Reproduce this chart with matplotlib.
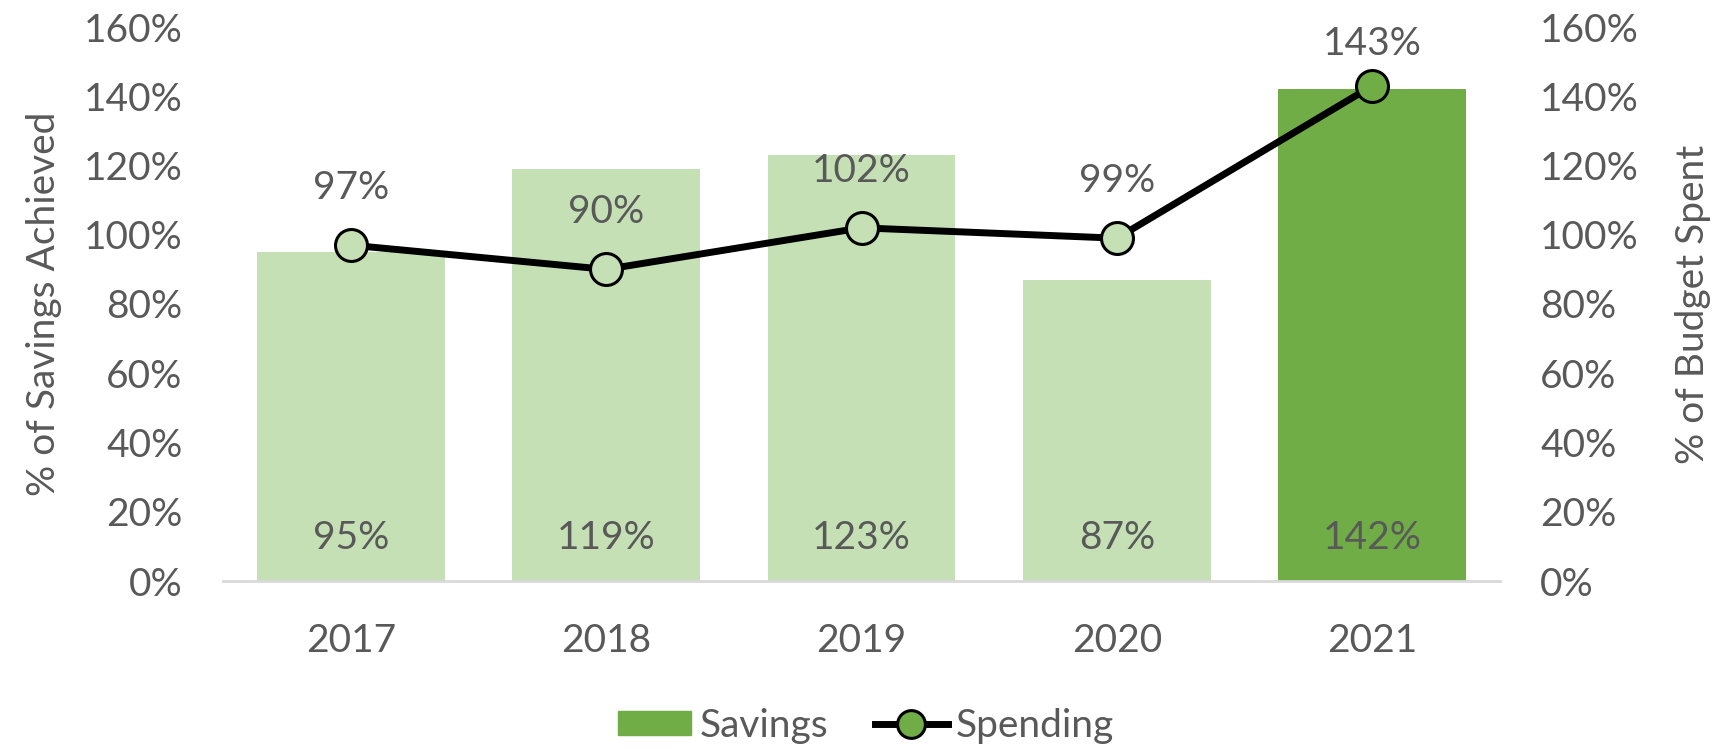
import matplotlib.pyplot as plt
from matplotlib.lines import Line2D
from matplotlib.patches import Patch

# data
years = ['2017', '2018', '2019', '2020', '2021']
savings = [95, 119, 123, 87, 142]
spending = [97, 90, 102, 99, 143]
highlight = [False, False, False, False, True]

light = '#C5E0B4'
dark = '#70AD47'
txt = '#595959'
fs = 28

plt.rcParams['font.family'] = ['Lato', 'DejaVu Sans']

fig = plt.figure(figsize=(17.2, 7.49), dpi=100)
ax = fig.add_axes([223/1720, 1 - 581/749, (1500-223)/1720, (581-27)/749])
ax2 = ax.twinx()

x = range(len(years))
cols = [dark if h else light for h in highlight]
ax.bar(x, savings, width=0.736, color=cols, zorder=2)
for i, v in enumerate(savings):
    ax.text(i, 12.4, f'{v}%', ha='center', va='center', fontsize=fs, color=txt)

ax2.plot(x, spending, color='black', lw=5, zorder=3)
for i, v in enumerate(spending):
    ax2.plot(i, v, 'o', ms=23, mfc=cols[i], mec='black', mew=2.2, zorder=4)
    ax2.text(i, min(v + 16.5, 155), f'{v}%', ha='center', va='center',
             fontsize=fs, color=txt)

for a in (ax, ax2):
    a.set_ylim(0, 160)
    a.set_yticks(range(0, 161, 20))
    a.set_yticklabels([f'{t}%' for t in range(0, 161, 20)])
    a.tick_params(axis='y', length=0, labelsize=fs, labelcolor=txt, pad=29)
    for s in a.spines.values():
        s.set_visible(False)
ax.set_xlim(-0.5, 4.5)
ax.set_xticks(list(x))
ax.set_xticklabels(years)
ax.tick_params(axis='x', length=0, labelsize=fs, labelcolor=txt, pad=30)
ax.spines['bottom'].set_visible(True)
ax.spines['bottom'].set_color('#D9D9D9')
ax.spines['bottom'].set_linewidth(2)

ax.set_ylabel('% of Savings Achieved', fontsize=fs, color=txt, va='center')
ax2.set_ylabel('% of Budget Spent', fontsize=fs, color=txt, va='center')
ax.yaxis.set_label_coords(-0.140, 0.5)
ax2.yaxis.set_label_coords(1.151, 0.5)

handles = [Patch(color=dark, label='Savings'),
           Line2D([], [], color='black', lw=5, marker='o', ms=20, mfc=dark,
                  mec='black', mew=2.2, label='Spending')]
fig.legend(handles=handles, loc='center', bbox_to_anchor=(866/1720, 1 - 726/749),
           ncol=2, frameon=False, fontsize=fs, labelcolor=txt,
           handlelength=1.9, handleheight=0.57, handletextpad=0.2, columnspacing=1.2)

fig.savefig('out.png', dpi=100)
